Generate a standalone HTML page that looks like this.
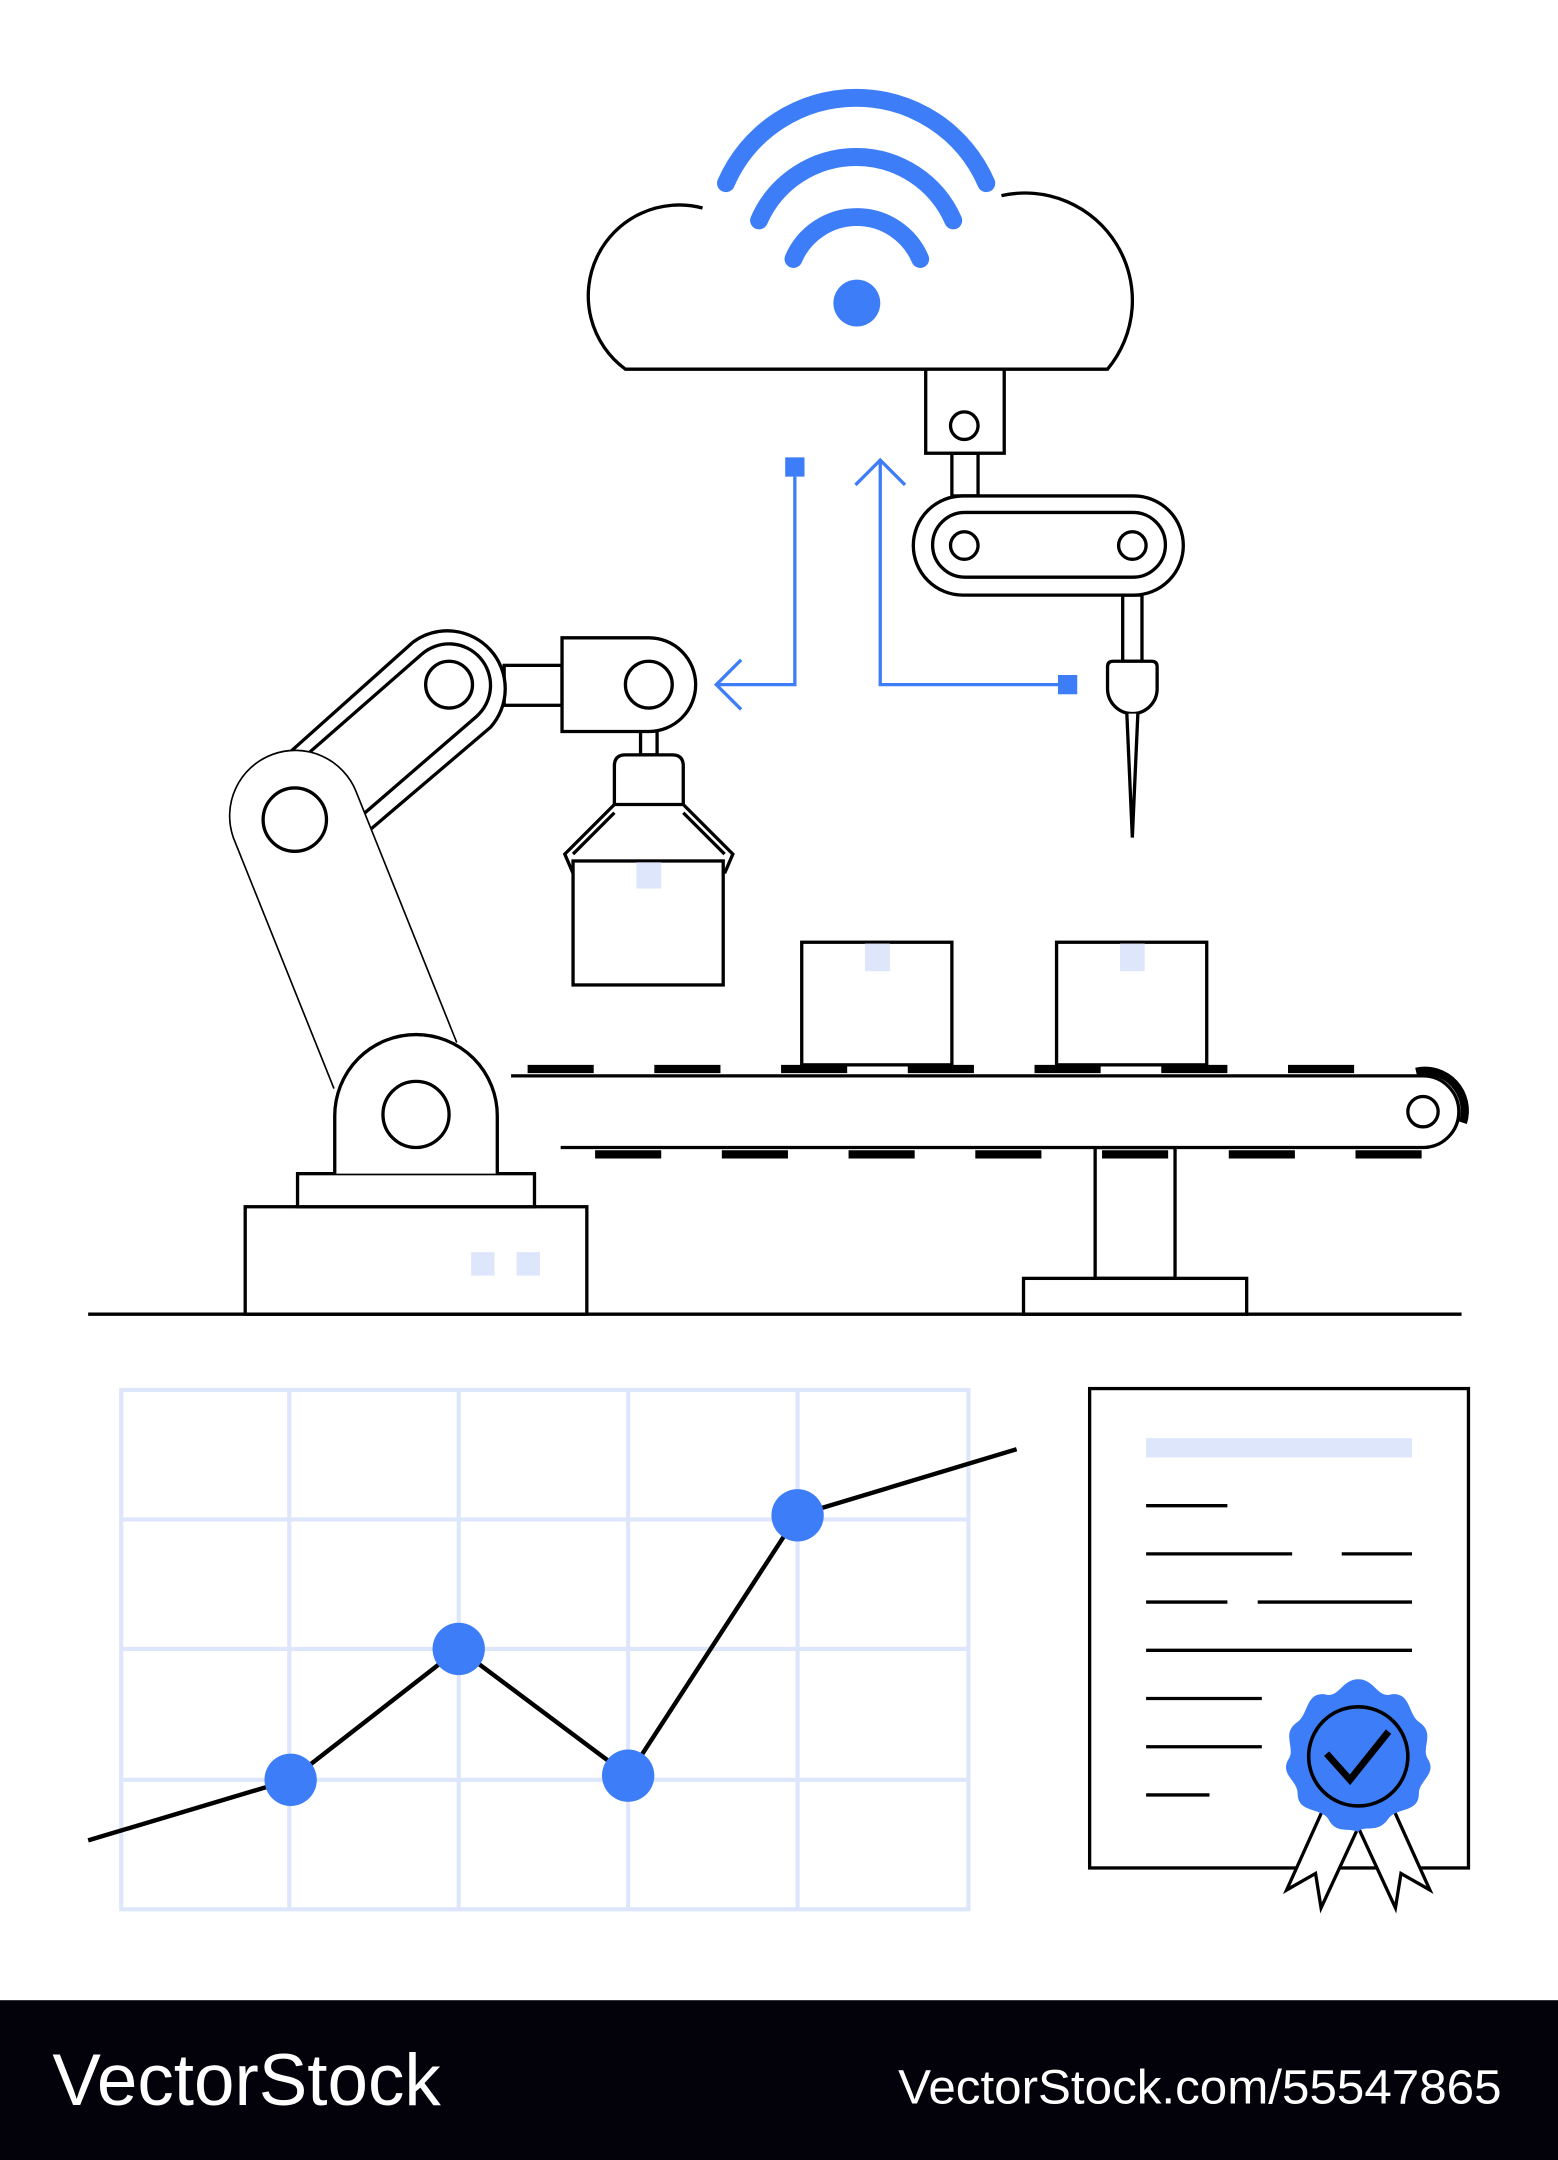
<!DOCTYPE html>
<html><head><style>html,body{margin:0;padding:0;background:#fff}svg{display:block}</style></head><body>
<svg width="1558" height="2160" viewBox="0 0 1131 1568" xmlns="http://www.w3.org/2000/svg">
<rect width="1131" height="1568" fill="#fff"/>
<g fill="none" stroke="#000" stroke-width="2.4">
<path d="M510,151 A66,66 0 0 0 454,268 L804,268 A78,78 0 0 0 727,142"/>
</g>
<g fill="none" stroke="#3d7ef8" stroke-width="13" stroke-linecap="round">
<path d="M576,188 A50,50 0 0 1 668,188"/>
<path d="M551,160 A77,77 0 0 1 692,160"/>
<path d="M527,133 A103,103 0 0 1 716,133"/>
</g>
<circle cx="622" cy="220" r="17" fill="#3d7ef8"/>
<g fill="#fff" stroke="#000" stroke-width="2.4">
<rect x="691" y="329" width="19" height="31"/>
<rect x="815" y="432" width="14" height="48"/>
<rect x="672" y="268" width="57" height="61"/>
<circle cx="700" cy="309" r="10"/>
<rect x="663" y="360" width="196" height="72" rx="36"/>
<rect x="677" y="372" width="169" height="47" rx="23.5"/>
<circle cx="700" cy="396" r="10"/><circle cx="822" cy="396" r="10"/>
<path d="M804,484 Q804,480 808,480 L836,480 Q840,480 840,484 L840,500 A18,18 0 0 1 804,500 Z"/>
<path d="M818,518 L822,608 L826,518"/>
</g>
<g fill="none" stroke="#3d7ef8" stroke-width="2.4">
<path d="M577,346 L577,497 L521,497"/>
<path d="M538,479 L520,497 L538,515"/>
<path d="M639,335 L639,497 L775,497"/>
<path d="M621,352 L639,334 L657,352"/>
</g>
<rect x="570" y="332" width="14" height="14" fill="#3d7ef8"/>
<rect x="768" y="490" width="14" height="14" fill="#3d7ef8"/>
<g fill="#fff" stroke="#000" stroke-width="2.4">
<rect x="366" y="483" width="42" height="29"/>
<path d="M300,466 A42,42 0 0 1 356,528 L262,608 L206,550 Z"/>
<path d="M306,475 A30,30 0 0 1 346,520 L258,596 L218,552 Z"/>
<circle cx="326" cy="497" r="17"/>
<path d="M243,790 L170,608 A47,47 0 0 1 258,575 L331,757"/>
<path d="M170,608 A47,47 0 0 1 258,575 L331,757 L243,790 Z" stroke="none"/>
<circle cx="214" cy="595" r="23"/>
<rect x="178" y="876" width="248" height="78"/>
<rect x="216" y="852" width="172" height="24"/>
<path d="M243,852 L243,810 A59,59 0 0 1 361,810 L361,852"/>
<circle cx="302" cy="809" r="24"/>
<rect x="465" y="530" width="12" height="18"/>
<path d="M408,463 L471,463 A34,34 0 0 1 471,531 L408,531 Z"/>
<circle cx="471" cy="497" r="17"/>
<path d="M446,584 L410,620 L416,634 M496,584 L532,620 L526,634 M446,590 L416,620 M496,590 L526,620"/>
<path d="M446,556 Q446,548 454,548 L488,548 Q496,548 496,556 L496,584 L446,584 Z"/>
<rect x="416" y="625" width="109" height="90"/>
</g>
<rect x="462" y="626" width="18" height="19" fill="#dde6fb"/>
<rect x="342" y="909" width="17" height="17" fill="#dde6fb"/>
<rect x="375" y="909" width="17" height="17" fill="#dde6fb"/>
<g fill="#fff" stroke="#000" stroke-width="2.4">
<rect x="795" y="833" width="58" height="95"/>
<rect x="743" y="928" width="162" height="26"/>
<path d="M371,781 L1033,781 A26,26 0 0 1 1033,833 L407,833"/>
<circle cx="1033" cy="807" r="11"/>
<rect x="582" y="684" width="109" height="89"/>
<rect x="767" y="684" width="109" height="89"/>
<line x1="64" y1="954" x2="1061" y2="954"/>
</g>
<rect x="628" y="685" width="18" height="20" fill="#dde6fb"/>
<rect x="813" y="685" width="18" height="20" fill="#dde6fb"/>
<g stroke="#000" stroke-width="6">
<path d="M383,776 H431 M475,776 H523 M567,776 H615 M659,776 H707 M751,776 H799 M843,776 H891 M935,776 H983"/>
<path d="M432,838 H480 M524,838 H572 M616,838 H664 M708,838 H756 M800,838 H848 M892,838 H940 M984,838 H1032"/>
</g>
<path d="M1028,778 A29,29 0 0 1 1062,815" fill="none" stroke="#000" stroke-width="6"/>
<g fill="none" stroke="#dde6fb" stroke-width="3">
<rect x="88" y="1009" width="615" height="377"/>
<path d="M210,1009V1386 M333,1009V1386 M456,1009V1386 M579,1009V1386 M88,1103H703 M88,1197H703 M88,1292H703"/>
</g>
<polyline points="64,1336 211,1292 333,1197 456,1289 579,1100 738,1052" fill="none" stroke="#000" stroke-width="3.2"/>
<g fill="#3d7ef8"><circle cx="211" cy="1292" r="19"/><circle cx="333" cy="1197" r="19"/><circle cx="456" cy="1289" r="19"/><circle cx="579" cy="1100" r="19"/></g>
<rect x="791" y="1008" width="275" height="348" fill="#fff" stroke="#000" stroke-width="2.4"/>
<rect x="832" y="1044" width="193" height="14" fill="#dde6fb"/>
<g stroke="#000" stroke-width="2.4">
<path d="M832,1093H891 M832,1128H938 M974,1128H1025 M832,1163H891 M913,1163H1025 M832,1198H1025 M832,1233H916 M832,1268H916 M832,1303H878"/>
</g>
<g fill="#fff" stroke="#000" stroke-width="2.4">
<path d="M962,1310 L934,1372 L955,1360 L959,1385 L990,1318 Z"/>
<path d="M982,1318 L1013,1385 L1017,1360 L1038,1372 L1010,1310 Z"/>
</g>
<path fill="#3d7ef8" d="M986,1219 C998,1219 1000,1233 1010,1230 C1024,1228 1022,1244 1030,1250 C1042,1258 1032,1268 1036,1276 C1044,1288 1030,1292 1030,1302 C1030,1316 1014,1312 1008,1320 C1000,1332 990,1324 986,1330 C978,1326 970,1332 964,1320 C958,1312 942,1316 942,1302 C942,1292 928,1288 936,1276 C940,1268 930,1258 942,1250 C950,1244 948,1228 962,1230 C972,1233 974,1219 986,1219 Z"/>
<circle cx="986" cy="1275" r="36" fill="#3d7ef8" stroke="#000" stroke-width="2.6"/>
<path d="M963,1273 L980,1292 L1008,1257" fill="none" stroke="#000" stroke-width="5"/>
<rect x="0" y="1452" width="1131" height="116" fill="#03020a"/>
<text x="38" y="1528" fill="#fff" font-family="Liberation Sans, sans-serif" font-size="53" textLength="282" lengthAdjust="spacingAndGlyphs">VectorStock</text>
<text x="652" y="1527" fill="#fff" font-family="Liberation Sans, sans-serif" font-size="35" textLength="438" lengthAdjust="spacingAndGlyphs">VectorStock.com/55547865</text>
</svg>
</body></html>
